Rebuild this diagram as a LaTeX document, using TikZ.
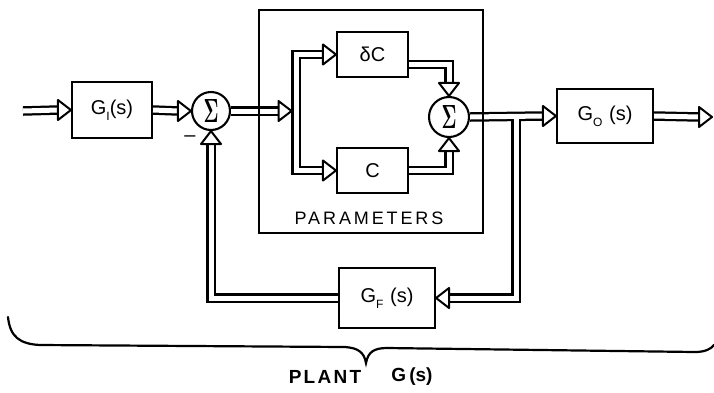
\documentclass[tikz,border=0pt]{standalone}
\usepackage{fontspec}
\setmainfont{Liberation Sans}
\usepackage{graphicx}
\usepackage{amsmath}
\usetikzlibrary{calc}
\newcommand\lbl{\fontsize{20}{22}\selectfont}
\newcommand\subx[1]{\raisebox{-6pt}{\fontsize{12}{12}\selectfont #1}}
\newcommand\sig{\resizebox{15pt}{23pt}{$\boldsymbol{\Sigma}$}}
\newcommand\dnet{%
  \path[dl] (in) -- ($(GI.west)+(-13,0)$);
  \path[dl] (GI.east) -- ($(S1.west)+(-13,0)$);
  \path[dl] (S1.east) -- ($(bx)+(-17.5,0)$);
  \path[dl] ($(dC.west)+(-13,0)$) -- (bx |- dC.west) -- (bx |- C.west) -- ($(C.west)+(-13,0)$);
  \path[dl] (dCo) -- (dCo -| S2) -- ($(S2.north)+(0,-13)$);
  \path[dl] (C.east) -- (C.east -| S2) -- ($(S2.south)+(0,13)$);
  \path[dl] (S2.east) -- ($(GO.west)+(-13,0)$);
  \path[dl] (j) -- (j |- GF.east) -- ($(GF.east)+(13,0)$);
  \path[dl] (GF.west) -- (GF.west -| S1) -- ($(S1.south)+(0,13)$);
  \path[dl] (GO.east) -- ($(out)+(-13,0)$);
}
\begin{document}
\begin{tikzpicture}[x=1pt,y=-1pt,
  box/.style={draw, line width=2.1pt, inner sep=0pt, font=\lbl},
  sumnode/.style={draw, circle, line width=2.1pt, minimum size=38pt, inner sep=0pt},
  lab/.style={inner sep=0pt, font=\lbl},
  ahead/.pic={\draw[line width=2pt, fill=white, line join=round] (0,0) -- (-13,10) -- (-13,-10) -- cycle;},
  line join=miter]
\useasboundingbox (0,0) rectangle (714,392);

\node[box, minimum width=80pt, minimum height=56pt] (GI) at (112,110) {G\subx{I}(s)};
\node[sumnode] (S1) at (211,111) {\sig};
\node[box, minimum width=71pt, minimum height=45pt] (dC) at (372.5,54.5) {δC};
\node[box, minimum width=71pt, minimum height=45pt] (C) at (372.5,170.5) {C};
\node[sumnode, minimum size=40pt] (S2) at (449,117) {\sig};
\node[box, minimum width=96pt, minimum height=54pt] (GO) at (605,116) {G\subx{O}\,\,(s)};
\node[box, minimum width=96pt, minimum height=60pt] (GF) at (387,298) {G\subx{F}\,\,(s)};

\coordinate (in) at (23,111);
\coordinate (bx) at (296,111);
\coordinate (dCo) at ($(dC.east)+(0,10)$);
\coordinate (j) at ([xshift=46pt]S2.east);
\coordinate (out) at (712,117);

\begin{scope}[dl/.style={draw=black, line width=9.5pt}] \dnet \end{scope}
\begin{scope}[dl/.style={draw=white, line width=5pt}] \dnet \end{scope}

\pic at (GI.west) {ahead};
\pic at (S1.west) {ahead};
\pic at ($(bx)+(-4.5,0)$) {ahead};
\pic at (dC.west) {ahead};
\pic at (C.west) {ahead};
\pic[rotate=-90] at (S2.north) {ahead};
\pic[rotate=90] at (S2.south) {ahead};
\pic at (GO.west) {ahead};
\pic[rotate=180] at (GF.east) {ahead};
\pic[rotate=90] at (S1.south) {ahead};
\pic at (out) {ahead};

\node[draw, line width=2pt, minimum width=224pt, minimum height=223pt, inner sep=0pt] (P) at (371,121.5) {};
\node[lab, font=\fontsize{18}{20}\selectfont] (PL) at (369,218.5) {\addfontfeatures{LetterSpace=16}PARAMETERS};
\node[lab] (minus) at (190,139) {–};

\draw[line width=2.2pt, line cap=round] (8,317) .. controls (10,337) and (20,344) .. (40,345) -- (345,347)
  .. controls (358,348) and (364,352) .. (366,363) .. controls (368,352) and (374,348) .. (387,348)
  -- (695,352) .. controls (705,352) and (711,349) .. (714,345);
\node[lab, font=\fontsize{19}{21}\selectfont\bfseries] (plant) at (325,377) {\addfontfeatures{LetterSpace=12}PLANT};
\node[lab, font=\fontsize{19}{21}\selectfont\bfseries] (gs) at (412,377) {G\,(s)};
\end{tikzpicture}
\end{document}
